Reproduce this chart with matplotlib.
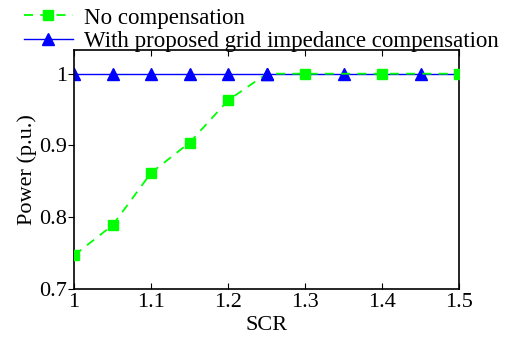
import numpy as np
import matplotlib
matplotlib.use("Agg")
import matplotlib.pyplot as plt
from matplotlib.ticker import FormatStrFormatter

plt.rcParams["font.family"] = ["Liberation Serif", "DejaVu Serif"]
plt.rcParams["mathtext.fontset"] = "stix"

# data
scr = [1.0, 1.05, 1.1, 1.15, 1.2, 1.25, 1.3, 1.35, 1.4, 1.45, 1.5]
p_nocomp = [0.747, 0.789, 0.862, 0.904, 0.963, 1.0, 1.0, 1.0, 1.0, 1.0, 1.0]
p_comp = [1.0, 1.0, 1.0, 1.0, 1.0, 1.0, 1.0, 1.0, 1.0, 1.0, 1.0]

fig = plt.figure(figsize=(5.08, 3.39), dpi=100)
ax = fig.add_axes([0.146, 0.1475, 0.758, 0.705])

# blue markers where they are visible, green on top
ax.plot(scr, p_comp, color="b", lw=1.0, marker="^", ms=8, mfc="b", mec="b",
        markevery=[0, 1, 2, 3, 4, 5, 7, 9],
        label="With proposed grid impedance compensation", zorder=2)
ax.plot(scr, p_nocomp, color="#00ff00", lw=1.3, ls=(0, (5, 4)), marker="s", ms=7,
        mfc="#00ff00", mec="#00ff00", markevery=[0, 1, 2, 3, 4, 6, 8, 10],
        label="No compensation", zorder=3)
ax.plot(scr[5:6], p_comp[5:6], ls="none", marker="^", ms=8, color="b", zorder=4)

ax.set_xlim(1.0, 1.5)
ax.set_ylim(0.7, 1.033)
ax.set_xticks([1.0, 1.1, 1.2, 1.3, 1.4, 1.5])
ax.set_yticks([0.7, 0.8, 0.9, 1.0])
ax.xaxis.set_major_formatter(FormatStrFormatter("%g"))
ax.yaxis.set_major_formatter(FormatStrFormatter("%g"))
ax.tick_params(axis="x", direction="in", top=True, labelsize=16, pad=3, length=4)
ax.tick_params(axis="y", direction="out", labelsize=16, pad=1, length=4)
for s in ax.spines.values():
    s.set_linewidth(1.2)
ax.set_xlabel("SCR", fontsize=16, labelpad=3)
ax.set_ylabel("Power (p.u.)", fontsize=16, labelpad=1.5)

h, l = ax.get_legend_handles_labels()
fig.legend([h[1], h[0]], [l[1], l[0]], loc="upper left", bbox_to_anchor=(0.03, 1.005),
           frameon=False, fontsize=16.5, handlelength=2.1, handletextpad=0.5,
           labelspacing=0.12, borderaxespad=0)

fig.savefig("out.png", dpi=100)
